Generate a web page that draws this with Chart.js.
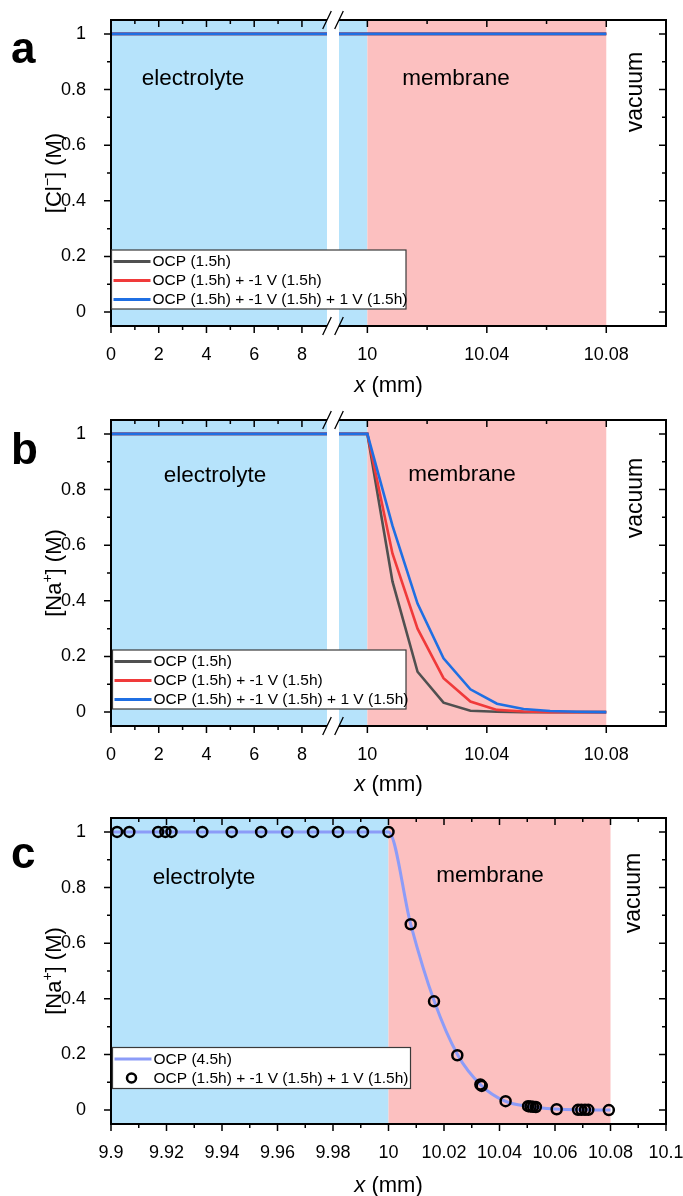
<!DOCTYPE html>
<html>
<head>
<meta charset="utf-8">
<script src="https://cdn.jsdelivr.net/npm/chart.js@4.4.1/dist/chart.umd.min.js"></script>
<style>
  html, body { margin: 0; padding: 0; background: #fff; overflow: hidden; }
  .panel { position: absolute; left: 0; width: 683px; height: 400px; }
  canvas { display: block; }
</style>
</head>
<body>
<div class="panel" style="top:0"><canvas id="chartA" width="683" height="400"></canvas></div>
<div class="panel" style="top:400px"><canvas id="chartB" width="683" height="400"></canvas></div>
<div class="panel" style="top:798px"><canvas id="chartC" width="683" height="400"></canvas></div>
<script>
// ---- data (x in mm, concentration in M) ----
const xCl = [0, 10, 10.04, 10.08];
const clOcp = [1, 1, 1, 1];
const clNeg = [1, 1, 1, 1];
const clPos = [1, 1, 1, 1];

const xNa = [0, 10, 10.0084, 10.0168, 10.0255, 10.0345, 10.0434, 10.0523, 10.0612, 10.0701, 10.08];
const naOcp = [1, 1, 0.47, 0.145, 0.034, 0.005, 0.001, 0, 0, 0, 0];
const naNeg = [1, 1, 0.57, 0.300, 0.122, 0.038, 0.008, 0.002, 0, 0, 0];
const naPos = [1, 1, 0.67, 0.390, 0.193, 0.082, 0.030, 0.011, 0.004, 0.001, 0];

const xFit = [9.9, 10, 10.008, 10.0165, 10.025, 10.0333, 10.042, 10.0505, 10.06, 10.07, 10.08];
const naFit = [1, 1, 0.668, 0.391, 0.197, 0.090, 0.032, 0.013, 0.004, 0.001, 0];

const xMeas = [9.9022, 9.9066, 9.9170, 9.9196, 9.9218, 9.9329, 9.9435, 9.9541, 9.9635, 9.9728, 9.9818, 9.9908, 10.0,
  10.008, 10.0164, 10.0248, 10.0331, 10.0336, 10.0422, 10.0503, 10.0512, 10.0521, 10.0531, 10.0606,
  10.0683, 10.0695, 10.0708, 10.0720, 10.0794];
const naMeas = [1, 1, 1, 1, 1, 1, 1, 1, 1, 1, 1, 1, 1,
  0.668, 0.391, 0.197, 0.092, 0.087, 0.032, 0.014, 0.013, 0.012, 0.011, 0.003,
  0.001, 0.001, 0.001, 0.001, 0];

// regions
const electrolyteEnd = 10;
const membraneEnd = 10.08;

// ticks
const yMajor = [0, 0.2, 0.4, 0.6, 0.8, 1];
const yMinor = [0.1, 0.3, 0.5, 0.7, 0.9];
const xMajorBroken = [0, 2, 4, 6, 8, 10, 10.04, 10.08];
const xMinorBroken = [1, 3, 5, 7, 10.02, 10.06];
const xMajorZoom = [9.9, 9.92, 9.94, 9.96, 9.98, 10, 10.02, 10.04, 10.06, 10.08, 10.1];
const xMinorZoom = [9.91, 9.93, 9.95, 9.97, 9.99, 10.01, 10.03, 10.05, 10.07, 10.09];

const FONT = '"Liberation Sans", Arial, sans-serif';
const GRAY = '#505050';
const RED = '#f03a3a';
const BLUE = '#1f6fe3';
const FIT = '#8c9cf8';
const BLUE_BG = '#b6e3fb';
const PINK_BG = '#fcc0c0';

Chart.defaults.font.family = FONT;
Chart.defaults.color = '#000';

// x axis with a break between 9.05 and 9.9905 mm
const AXIS_BREAK = { lo: 9.05, hi: 9.9905, from: 216 / 555, to: 228 / 555 };

class BrokenLinearScale extends Chart.LinearScale {
  getPixelForValue(value) {
    const b = AXIS_BREAK;
    let d;
    if (value <= b.lo) d = (value - this.min) / (b.lo - this.min) * b.from;
    else if (value >= b.hi) d = b.to + (value - b.hi) / (this.max - b.hi) * (1 - b.to);
    else d = b.from + (value - b.lo) / (b.hi - b.lo) * (b.to - b.from);
    return this.getPixelForDecimal(d);
  }
  getValueForPixel(pixel) {
    const b = AXIS_BREAK;
    const d = this.getDecimalForPixel(pixel);
    if (d <= b.from) return this.min + d / b.from * (b.lo - this.min);
    if (d >= b.to) return b.hi + (d - b.to) / (1 - b.to) * (this.max - b.hi);
    return b.lo + (d - b.from) / (b.to - b.from) * (b.hi - b.lo);
  }
}
BrokenLinearScale.id = 'brokenLinear';
BrokenLinearScale.defaults = Chart.LinearScale.defaults;
Chart.register(BrokenLinearScale);

function pts(xs, ys) {
  return xs.map((x, i) => ({ x: x, y: ys[i] }));
}

function lineSet(label, xs, ys, color, order) {
  return {
    label: label,
    data: pts(xs, ys),
    borderColor: color,
    backgroundColor: color,
    borderWidth: 2.6,
    pointRadius: 0,
    order: order
  };
}

// everything that is not a data mark: bands, frame, ticks, labels, legend
function decor(cfg) {
  return {
    id: 'decor',
    beforeDatasetsDraw(chart) {
      const { ctx, chartArea: a, scales: { x } } = chart;
      const e1 = x.getPixelForValue(electrolyteEnd);
      const m1 = x.getPixelForValue(membraneEnd);
      ctx.save();
      ctx.fillStyle = BLUE_BG;
      ctx.fillRect(a.left, a.top, e1 - a.left, a.bottom - a.top);
      ctx.fillStyle = PINK_BG;
      ctx.fillRect(e1, a.top, m1 - e1, a.bottom - a.top);
      ctx.restore();
    },
    afterDatasetsDraw(chart) {
      const { ctx, chartArea: a, scales: { x, y } } = chart;
      ctx.save();

      let g1 = null, g2 = null;
      if (cfg.broken) {
        g1 = x.getPixelForValue(AXIS_BREAK.lo);
        g2 = x.getPixelForValue(AXIS_BREAK.hi);
        ctx.fillStyle = '#fff';
        ctx.fillRect(g1, a.top - 2, g2 - g1, a.bottom - a.top + 4);
      }

      // frame
      ctx.strokeStyle = '#000';
      ctx.lineWidth = 2;
      ctx.beginPath();
      ctx.moveTo(a.left, a.top - 1); ctx.lineTo(a.left, a.bottom + 1);
      ctx.moveTo(a.right, a.top - 1); ctx.lineTo(a.right, a.bottom + 1);
      [a.top, a.bottom].forEach(yy => {
        if (cfg.broken) {
          ctx.moveTo(a.left, yy); ctx.lineTo(g1, yy);
          ctx.moveTo(g2, yy); ctx.lineTo(a.right, yy);
        } else {
          ctx.moveTo(a.left, yy); ctx.lineTo(a.right, yy);
        }
      });
      ctx.stroke();

      // ticks: out on left/bottom, in on top/right
      ctx.lineWidth = 1.5;
      ctx.beginPath();
      const tickX = (v, len) => {
        const px = x.getPixelForValue(v);
        ctx.moveTo(px, a.bottom); ctx.lineTo(px, a.bottom + len);
        ctx.moveTo(px, a.top); ctx.lineTo(px, a.top + len);
      };
      const tickY = (v, len) => {
        const py = y.getPixelForValue(v);
        ctx.moveTo(a.left, py); ctx.lineTo(a.left - len, py);
        ctx.moveTo(a.right, py); ctx.lineTo(a.right - len, py);
      };
      cfg.xMajor.forEach(v => tickX(v, 7));
      cfg.xMinor.forEach(v => tickX(v, 4));
      yMajor.forEach(v => tickY(v, 7));
      yMinor.forEach(v => tickY(v, 4));
      ctx.stroke();

      // break marks
      if (cfg.broken) {
        ctx.lineWidth = 1.3;
        ctx.beginPath();
        [a.top, a.bottom].forEach(yy => {
          [g1, g2].forEach(gx => {
            ctx.moveTo(gx - 4.3, yy + 9);
            ctx.lineTo(gx + 4.3, yy - 9);
          });
        });
        ctx.stroke();
      }

      // region labels
      ctx.fillStyle = '#000';
      ctx.textAlign = 'center';
      ctx.textBaseline = 'middle';
      ctx.font = '22.5px ' + FONT;
      cfg.labels.forEach(l => ctx.fillText(l.text, l.x, l.y));
      ctx.save();
      ctx.translate(cfg.vacuum.x, cfg.vacuum.y);
      ctx.rotate(-Math.PI / 2);
      ctx.font = '23px ' + FONT;
      ctx.fillText('vacuum', 0, 0);
      ctx.restore();

      // panel letter
      ctx.textAlign = 'left';
      ctx.textBaseline = 'alphabetic';
      ctx.font = 'bold 44px ' + FONT;
      ctx.fillText(cfg.letter, 11, cfg.letterY);

      // x title
      ctx.textBaseline = 'middle';
      ctx.font = 'italic 22px ' + FONT;
      const wx = ctx.measureText('x').width;
      ctx.font = '22px ' + FONT;
      const wr = ctx.measureText(' (mm)').width;
      const cx = (a.left + a.right) / 2;
      ctx.font = 'italic 22px ' + FONT;
      ctx.fillText('x', cx - (wx + wr) / 2, cfg.xTitleY);
      ctx.font = '22px ' + FONT;
      ctx.fillText(' (mm)', cx - (wx + wr) / 2 + wx, cfg.xTitleY);

      // y title with superscript
      ctx.save();
      ctx.translate(53, (a.top + a.bottom) / 2);
      ctx.rotate(-Math.PI / 2);
      ctx.textBaseline = 'alphabetic';
      const [p1, sup, p2] = cfg.yTitle;
      ctx.font = '22px ' + FONT;
      const w1 = ctx.measureText(p1).width, w3 = ctx.measureText(p2).width;
      ctx.font = '14px ' + FONT;
      const w2 = ctx.measureText(sup).width;
      let tx = -(w1 + w2 + w3) / 2;
      ctx.font = '22px ' + FONT;
      ctx.fillText(p1, tx, 8);
      ctx.font = '14px ' + FONT;
      ctx.fillText(sup, tx + w1, -1);
      ctx.font = '22px ' + FONT;
      ctx.fillText(p2, tx + w1 + w2, 8);
      ctx.restore();

      // legend
      const L = cfg.legend;
      ctx.fillStyle = '#fff';
      ctx.fillRect(L.x, L.y, L.w, L.h);
      ctx.strokeStyle = '#3a3a3a';
      ctx.lineWidth = 1.2;
      ctx.strokeRect(L.x, L.y, L.w, L.h);
      ctx.font = '15.5px ' + FONT;
      ctx.textBaseline = 'middle';
      chart.data.datasets.forEach((ds, i) => {
        const ry = L.y + 11.5 + i * 19;
        if (ds.showLine === false) {
          ctx.strokeStyle = '#000';
          ctx.lineWidth = 2.5;
          ctx.beginPath();
          ctx.arc(L.x + 19, ry, 4.5, 0, Math.PI * 2);
          ctx.stroke();
        } else {
          ctx.strokeStyle = ds.borderColor;
          ctx.lineWidth = 3;
          ctx.beginPath();
          ctx.moveTo(L.x + 2, ry); ctx.lineTo(L.x + 39, ry);
          ctx.stroke();
        }
        ctx.fillStyle = '#000';
        ctx.fillText(ds.label, L.x + 41, ry + 0.5);
      });

      ctx.restore();
    }
  };
}

function makeChart(id, datasets, xScale, cfg) {
  const canvas = document.getElementById(id);
  return new Chart(canvas, {
    type: 'line',
    data: { datasets: datasets },
    options: {
      responsive: false,
      animation: false,
      events: [],
      layout: { padding: { top: 20, right: 17, bottom: 0, left: 0 } },
      plugins: { legend: { display: false }, tooltip: { enabled: false } },
      scales: {
        x: Object.assign({
          grid: { display: false },
          border: { display: false },
          afterFit: s => {
            s.height = 74;
            s.paddingLeft = 0;
            s.paddingRight = 0;
          }
        }, xScale),
        y: {
          type: 'linear',
          min: -0.05,
          max: 1.05,
          grid: { display: false },
          border: { display: false },
          afterBuildTicks: s => { s.ticks = yMajor.map(v => ({ value: v })); },
          ticks: {
            padding: 17,
            font: { size: 18 },
            callback: v => String(+v.toFixed(1))
          },
          afterFit: s => {
            s.width = 111;
            s.paddingTop = 0;
            s.paddingBottom = 0;
          }
        }
      }
    },
    plugins: [decor(cfg)]
  });
}

const brokenX = {
  type: 'brokenLinear',
  min: 0,
  max: 10.1,
  afterBuildTicks: s => { s.ticks = xMajorBroken.map(v => ({ value: v })); },
  ticks: {
    autoSkip: false,
    maxRotation: 0,
    padding: 10,
    font: { size: 18 },
    callback: v => String(+v.toFixed(2))
  }
};

const zoomX = {
  type: 'linear',
  min: 9.9,
  max: 10.1,
  afterBuildTicks: s => { s.ticks = xMajorZoom.map(v => ({ value: v })); },
  ticks: {
    autoSkip: false,
    maxRotation: 0,
    padding: 10,
    font: { size: 18 },
    callback: v => String(+v.toFixed(2))
  }
};

try {
  makeChart('chartA', [
    lineSet('OCP (1.5h)', xCl, clOcp, GRAY, 3),
    lineSet('OCP (1.5h) + -1 V (1.5h)', xCl, clNeg, RED, 2),
    lineSet('OCP (1.5h) + -1 V (1.5h) + 1 V (1.5h)', xCl, clPos, BLUE, 1)
  ], brokenX, {
    broken: true,
    xMajor: xMajorBroken, xMinor: xMinorBroken,
    letter: 'a', letterY: 63,
    yTitle: ['[Cl', '\u2212', '] (M)'],
    labels: [{ text: 'electrolyte', x: 193, y: 79 }, { text: 'membrane', x: 456, y: 79 }],
    vacuum: { x: 636, y: 92 },
    xTitleY: 386,
    legend: { x: 111.5, y: 250, w: 294.5, h: 59 }
  });

  makeChart('chartB', [
    lineSet('OCP (1.5h)', xNa, naOcp, GRAY, 3),
    lineSet('OCP (1.5h) + -1 V (1.5h)', xNa, naNeg, RED, 2),
    lineSet('OCP (1.5h) + -1 V (1.5h) + 1 V (1.5h)', xNa, naPos, BLUE, 1)
  ], brokenX, {
    broken: true,
    xMajor: xMajorBroken, xMinor: xMinorBroken,
    letter: 'b', letterY: 64,
    yTitle: ['[Na', '+', '] (M)'],
    labels: [{ text: 'electrolyte', x: 215, y: 76 }, { text: 'membrane', x: 462, y: 75 }],
    vacuum: { x: 636, y: 98 },
    xTitleY: 385,
    legend: { x: 112.5, y: 250, w: 293.5, h: 59 }
  });

  const fit = lineSet('OCP (4.5h)', xFit, naFit, FIT, 2);
  fit.borderWidth = 3;
  fit.cubicInterpolationMode = 'monotone';
  makeChart('chartC', [
    fit,
    {
      label: 'OCP (1.5h) + -1 V (1.5h) + 1 V (1.5h)',
      data: pts(xMeas, naMeas),
      showLine: false,
      pointRadius: 5,
      pointBorderWidth: 2.5,
      pointBorderColor: '#000',
      pointBackgroundColor: 'rgba(0,0,0,0)',
      order: 1
    }
  ], zoomX, {
    broken: false,
    xMajor: xMajorZoom, xMinor: xMinorZoom,
    letter: 'c', letterY: 70,
    yTitle: ['[Na', '+', '] (M)'],
    labels: [{ text: 'electrolyte', x: 204, y: 80 }, { text: 'membrane', x: 490, y: 78 }],
    vacuum: { x: 634, y: 95 },
    xTitleY: 388,
    legend: { x: 112.5, y: 249.5, w: 298, h: 41 }
  });
} catch (e) {
  console.error('chart error: ', e);
}
</script>
</body>
</html>
